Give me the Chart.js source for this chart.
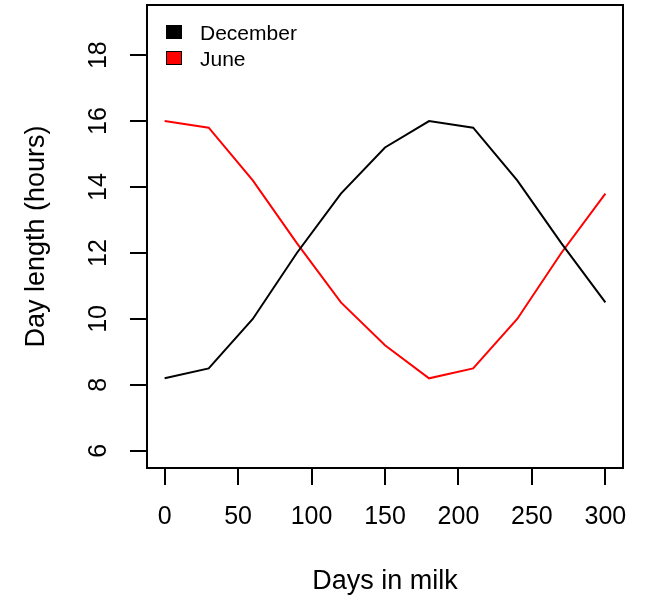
<!DOCTYPE html>
<html>
<head>
<meta charset="utf-8">
<script src="https://cdn.jsdelivr.net/npm/chart.js@4.4.1/dist/chart.umd.min.js"></script>
<style>
  html, body { margin: 0; padding: 0; background: #fff; }
  #wrap { width: 645px; height: 599px; }
</style>
</head>
<body>
<div id="wrap"><canvas id="grafico" width="645" height="599"></canvas></div>
<script>
// Datos
const diasEnLeche = [0, 30, 60, 90, 120, 150, 180, 210, 240, 270, 300];
const diciembre = [8.2, 8.5, 10.0, 12.0, 13.8, 15.2, 16.0, 15.8, 14.2, 12.3, 10.5];
const junio = [16.0, 15.8, 14.2, 12.3, 10.5, 9.2, 8.2, 8.5, 10.0, 12.0, 13.8];
const nombresSeries = ['December', 'June'];
const coloresSeries = ['#000000', '#ff0000'];
const ticksX = [0, 50, 100, 150, 200, 250, 300];
const ticksY = [6, 8, 10, 12, 14, 16, 18];

const FUENTE = '"Liberation Sans", Arial, Helvetica, sans-serif';

function aPuntos(xs, ys) {
    return xs.map((x, i) => ({ x: x, y: ys[i] }));
}

// Marco alrededor del area de trazado (estilo R)
const pluginMarco = {
    id: 'marco',
    afterDatasetsDraw(chart) {
        const { ctx, chartArea: a } = chart;
        ctx.save();
        ctx.strokeStyle = '#000';
        ctx.lineWidth = 2;
        ctx.strokeRect(a.left, a.top, a.right - a.left, a.bottom - a.top);
        ctx.restore();
    }
};

// Leyenda dentro del area, arriba a la izquierda
const pluginLeyenda = {
    id: 'leyendaR',
    afterDraw(chart) {
        const { ctx, chartArea: a } = chart;
        ctx.save();
        ctx.font = '21px ' + FUENTE;
        ctx.textBaseline = 'alphabetic';
        ctx.textAlign = 'left';
        nombresSeries.forEach((nombre, i) => {
            const y = a.top + 20 + i * 26;
            ctx.fillStyle = coloresSeries[i];
            ctx.fillRect(a.left + 19, y, 16, 14);
            ctx.strokeStyle = '#000';
            ctx.lineWidth = 1;
            ctx.strokeRect(a.left + 19.5, y + 0.5, 15, 13);
            ctx.fillStyle = '#000';
            ctx.fillText(nombre, a.left + 53, y + 15);
        });
        ctx.restore();
    }
};

new Chart(document.getElementById('grafico'), {
    type: 'line',
    data: {
        datasets: [
            {
                label: nombresSeries[0],
                data: aPuntos(diasEnLeche, diciembre),
                borderColor: coloresSeries[0],
                borderWidth: 2,
                pointRadius: 0,
                tension: 0,
                fill: false
            },
            {
                label: nombresSeries[1],
                data: aPuntos(diasEnLeche, junio),
                borderColor: coloresSeries[1],
                borderWidth: 2,
                pointRadius: 0,
                tension: 0,
                fill: false
            }
        ]
    },
    options: {
        responsive: false,
        animation: false,
        devicePixelRatio: 1,
        layout: { padding: { top: 5, right: 22, left: 0, bottom: 0 } },
        plugins: {
            legend: { display: false },
            tooltip: { enabled: false }
        },
        scales: {
            x: {
                type: 'linear',
                position: 'bottom',
                min: -12,
                max: 312,
                afterBuildTicks: (s) => { s.ticks = ticksX.map(v => ({ value: v })); },
                afterFit: (s) => {
                    s.height = 131;
                    s.paddingLeft = 0;
                    s.paddingRight = 0;
                },
                grid: {
                    display: true,
                    drawOnChartArea: false,
                    drawTicks: true,
                    tickLength: 17,
                    color: '#000',
                    lineWidth: 2
                },
                border: { display: false },
                ticks: {
                    color: '#000',
                    autoSkip: false,
                    maxRotation: 0,
                    padding: 20,
                    font: { family: FUENTE, size: 25, lineHeight: 1 }
                },
                title: {
                    display: true,
                    text: 'Days in milk',
                    color: '#000',
                    padding: { top: 0, bottom: 4 },
                    font: { family: FUENTE, size: 27, lineHeight: 1 }
                }
            },
            y: {
                type: 'linear',
                position: 'left',
                min: 5.48,
                max: 19.52,
                afterBuildTicks: (s) => { s.ticks = ticksY.map(v => ({ value: v })); },
                afterFit: (s) => {
                    s.width = 147;
                    s.paddingTop = 0;
                    s.paddingBottom = 0;
                },
                grid: {
                    display: true,
                    drawOnChartArea: false,
                    drawTicks: true,
                    tickLength: 17,
                    color: '#000',
                    lineWidth: 2
                },
                border: { display: false },
                ticks: {
                    color: '#000',
                    autoSkip: false,
                    minRotation: 90,
                    maxRotation: 90,
                    crossAlign: 'center',
                    padding: 17,
                    font: { family: FUENTE, size: 25, lineHeight: 1 }
                },
                title: {
                    display: true,
                    text: 'Day length (hours)',
                    color: '#000',
                    padding: { top: 23, bottom: 0 },
                    font: { family: FUENTE, size: 27, lineHeight: 1 }
                }
            }
        }
    },
    plugins: [pluginMarco, pluginLeyenda]
});
</script>
</body>
</html>
